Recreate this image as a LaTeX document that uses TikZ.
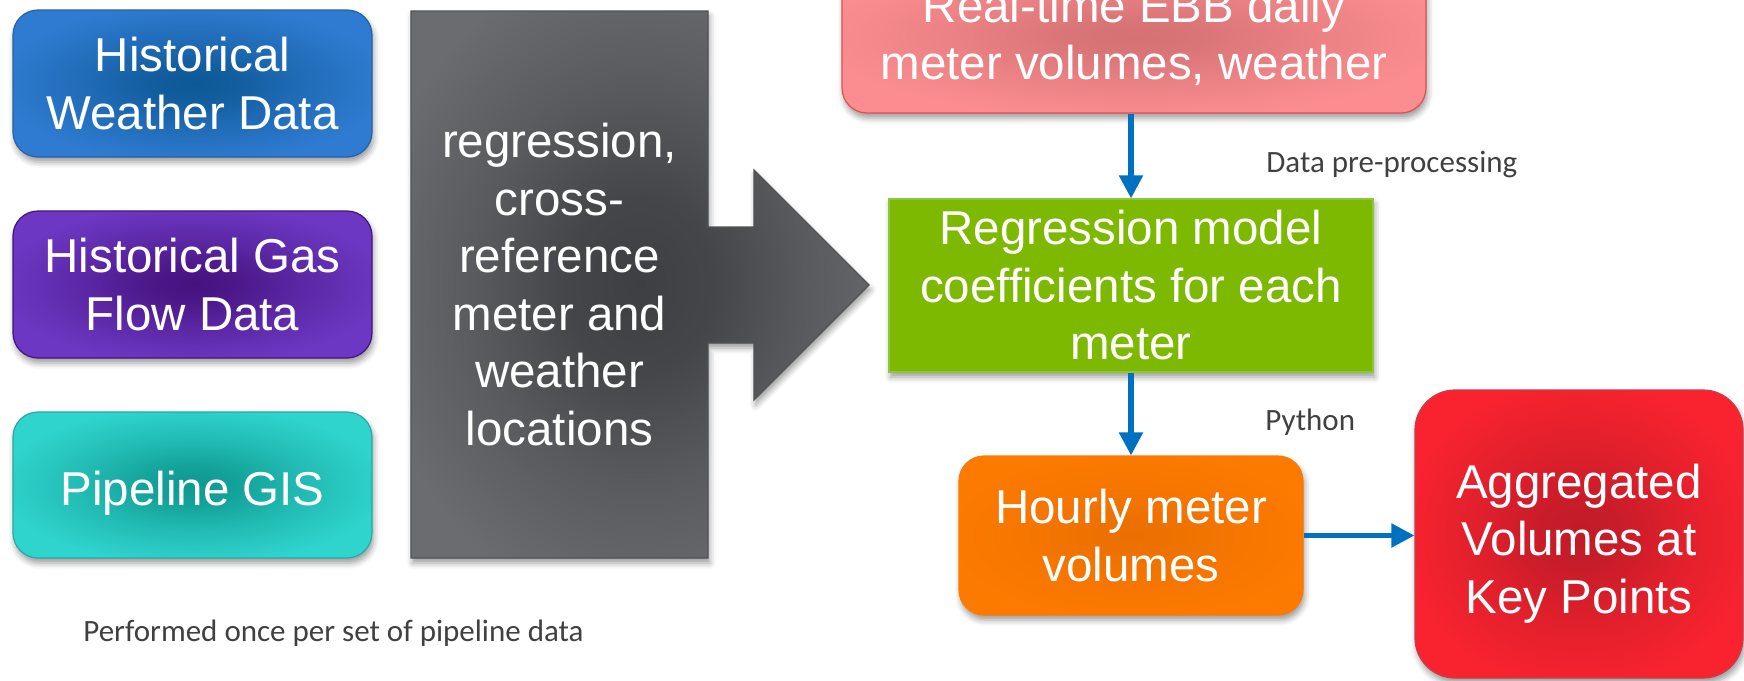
\documentclass[tikz,border=0pt]{standalone}
\usepackage{fontspec}
\setmainfont{Liberation Sans}
\newfontfamily\notefont{Carlito}
\usetikzlibrary{arrows.meta,shadows.blur,calc}

% fill colours: centre and edge of each glowing panel
\definecolor{blueIn}{HTML}{0D5895}   \definecolor{blueOut}{HTML}{2F7BD1}
\definecolor{purpIn}{HTML}{46127F}   \definecolor{purpOut}{HTML}{6C38C3}
\definecolor{tealIn}{HTML}{0E9890}   \definecolor{tealOut}{HTML}{2FD4CC}
\definecolor{grayIn}{HTML}{3E3F42}   \definecolor{grayOut}{HTML}{6B6C6F}
\definecolor{pinkIn}{HTML}{D47173}   \definecolor{pinkOut}{HTML}{FB8D90}
\definecolor{redIn}{HTML}{C01B28}    \definecolor{redOut}{HTML}{F8232F}
\definecolor{orgIn}{HTML}{EB7000}    \definecolor{orgOut}{HTML}{FD7A00}
\definecolor{leaf}{HTML}{7CB900}     \definecolor{leafEdge}{HTML}{8CC63E}
\definecolor{flowblue}{HTML}{0070C0}
\definecolor{notegray}{HTML}{404040}

% the path's bounding box covers the central 50bp square of a shading,
% so a stop at 25bp lands on the panel's edge
\newcommand\glowstops[2]{color(0bp)=(#1); color(6bp)=(#1!85!#2); color(16bp)=(#1!40!#2); color(27bp)=(#2); color(50bp)=(#2)}
\pgfdeclareradialshading{glowblue}{\pgfpoint{0bp}{0bp}}{\glowstops{blueIn}{blueOut}}
\pgfdeclareradialshading{glowpurp}{\pgfpoint{0bp}{0bp}}{\glowstops{purpIn}{purpOut}}
\pgfdeclareradialshading{glowteal}{\pgfpoint{0bp}{0bp}}{\glowstops{tealIn}{tealOut}}
\pgfdeclareradialshading{glowpink}{\pgfpoint{0bp}{0bp}}{\glowstops{pinkIn}{pinkOut}}
\pgfdeclareradialshading{glowred}{\pgfpoint{0bp}{0bp}}{\glowstops{redIn}{redOut}}
\pgfdeclareradialshading{gloworg}{\pgfpoint{0bp}{0bp}}{\glowstops{orgIn}{orgOut}}
\pgfdeclareradialshading{glowgray}{\pgfpoint{0bp}{0bp}}{color(0bp)=(grayIn); color(8bp)=(grayIn!85!grayOut); color(18bp)=(grayIn!40!grayOut); color(30bp)=(grayOut); color(50bp)=(grayOut)}

\begin{document}
\begin{tikzpicture}[x=0.5pt,y=-0.5pt,
  softshadow/.style={blur shadow={shadow xshift=0.8pt,shadow yshift=-2.5pt,
      shadow blur radius=3pt,shadow opacity=40}},
  panel/.style={rectangle,inner sep=0pt,text=white,align=center,
      font=\fontsize{23.75pt}{28.75pt}\selectfont,line width=0.6pt,softshadow},
  roundpanel/.style={panel,rounded corners=12.5pt},
  flow/.style={draw=flowblue,line width=2.6pt,
      -{Triangle[width=11.5pt,length=11.5pt]}},
  note/.style={font=\notefont\fontsize{15.5pt}{18pt}\selectfont,
      text=notegray,inner sep=0pt,anchor=base west}]

\useasboundingbox (0,0) rectangle (1744,680);
\clip (0,0) rectangle (1744,680);

% input data sources
\node[roundpanel,shade,shading=glowblue,draw=blueOut!80!black,
      minimum width=179.5pt,minimum height=73.5pt] (hwd) at (192.5,83.5)
      {Historical\\Weather Data};
\node[roundpanel,shade,shading=glowpurp,draw=purpIn,
      minimum width=179.5pt,minimum height=73.5pt] (hgf) at (192.5,284.5)
      {Historical Gas\\Flow Data};
\node[roundpanel,shade,shading=glowteal,draw=tealOut!80!black,
      minimum width=179.5pt,minimum height=73pt] (gis) at (192.5,485)
      {\raisebox{-4pt}[\height][\depth]{Pipeline GIS}};

% processing block with its built-in arrow
\path[shade,shading=glowgray,draw=grayIn!90!white,line width=0.6pt,softshadow]
  (411,11) -- (708,11) -- (708,227) -- (754,227) -- (754,170) -- (869,285)
  -- (754,400) -- (754,343) -- (708,343) -- (708,558) -- (411,558) -- cycle;
\node[align=center,text=white,inner sep=0pt,
      font=\fontsize{23.75pt}{28.75pt}\selectfont] (xref) at (559.5,284.5)
      {regression,\\cross-\\reference\\meter and\\weather\\locations};

% real-time chain
\node[roundpanel,shade,shading=glowpink,draw=pinkIn!70!red,
      minimum width=292pt,minimum height=76pt] (rt) at (1134,37)
      {Real-time EBB daily\\meter volumes, weather};
\node[panel,fill=leaf,draw=leafEdge,
      minimum width=242pt,minimum height=86.5pt] (coef) at (1131,285.5)
      {Regression model\\coefficients for each\\meter};
\node[roundpanel,shade,shading=gloworg,draw=orgOut,
      minimum width=172pt,minimum height=79.5pt] (hourly) at (1131,535.5)
      {Hourly meter\\volumes};
\node[panel,rounded corners=20pt,shade,shading=glowred,draw=redIn!85!white,
      minimum width=164pt,minimum height=144pt] (agg) at (1579,534)
      {\rule{0pt}{26.6pt}Aggregated\\Volumes at\\Key Points};

% connectors
\draw[flow] (rt.south -| coef.north) -- (coef.north);
\draw[flow] (coef.south) -- (hourly.north);
\draw[flow] (hourly.east) -- (hourly.east -| agg.west);

% annotations
\node[note] (prep) at (1266,172) {Data pre-processing};
\node[note] (py) at (1265,430) {Python};
\node[note] (once) at (83,641) {Performed once per set of pipeline data};
\end{tikzpicture}
\end{document}
